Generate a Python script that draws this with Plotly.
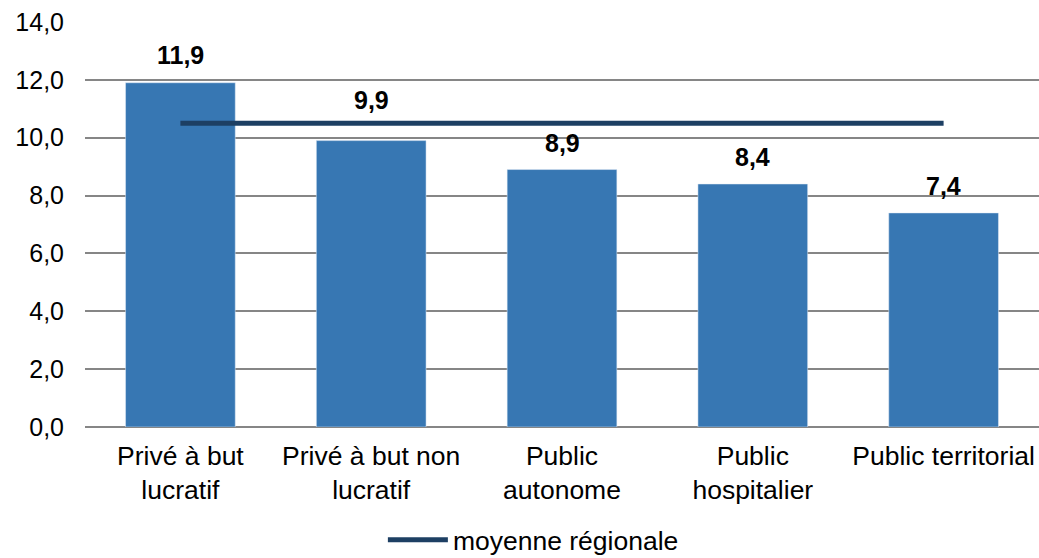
import plotly.graph_objects as go

categories = ["Privé à but<br>lucratif", "Privé à but non<br>lucratif", "Public<br>autonome",
              "Public<br>hospitalier", "Public territorial"]
values = [11.9, 9.9, 8.9, 8.4, 7.4]
regional_mean = [10.5, 10.5, 10.5, 10.5, 10.5]
label_shift = [28, 41, 27, 27, 27]

font = "Liberation Sans, Arial, sans-serif"

fig = go.Figure()
fig.add_trace(go.Bar(
    x=categories, y=values,
    marker_color="#3777B3",
    width=0.575,
    showlegend=False,
))
fig.add_trace(go.Scatter(
    x=categories, y=regional_mean,
    mode="lines",
    name="moyenne régionale",
    line=dict(color="#1D3F63", width=5),
))

for c, v, s in zip(categories, values, label_shift):
    fig.add_annotation(
        x=c, y=v, text=f"<b>{v:.1f}</b>".replace(".", ","),
        showarrow=False, yanchor="middle", yshift=s,
        font=dict(family=font, size=25, color="#000000"),
    )

fig.update_layout(
    width=1039, height=558,
    margin=dict(l=85, r=0, t=22, b=131, autoexpand=False),
    plot_bgcolor="white", paper_bgcolor="white",
    separators=", ",
    font=dict(family=font, size=25, color="#000000"),
    bargap=0.425,
    legend=dict(orientation="h", x=0.47, xanchor="center", y=-0.279, yanchor="middle",
                font=dict(size=26.5), itemwidth=60, tracegroupgap=0,
                bgcolor="rgba(0,0,0,0)"),
    xaxis=dict(showgrid=False, showline=False, ticks="", tickangle=0,
               tickfont=dict(size=26.5), automargin=False, ticklabelstandoff=10),
    yaxis=dict(range=[0, 14], dtick=2, tickformat=".1f", showgrid=True,
               gridcolor="#868686", gridwidth=1.5, zeroline=True, zerolinecolor="#868686",
               zerolinewidth=1.5, ticklabelstandoff=20, automargin=False),
)

fig.write_html("out.html", config={"displayModeBar": False},
               post_script="document.body.style.margin='0';document.body.style.overflow='hidden';")
